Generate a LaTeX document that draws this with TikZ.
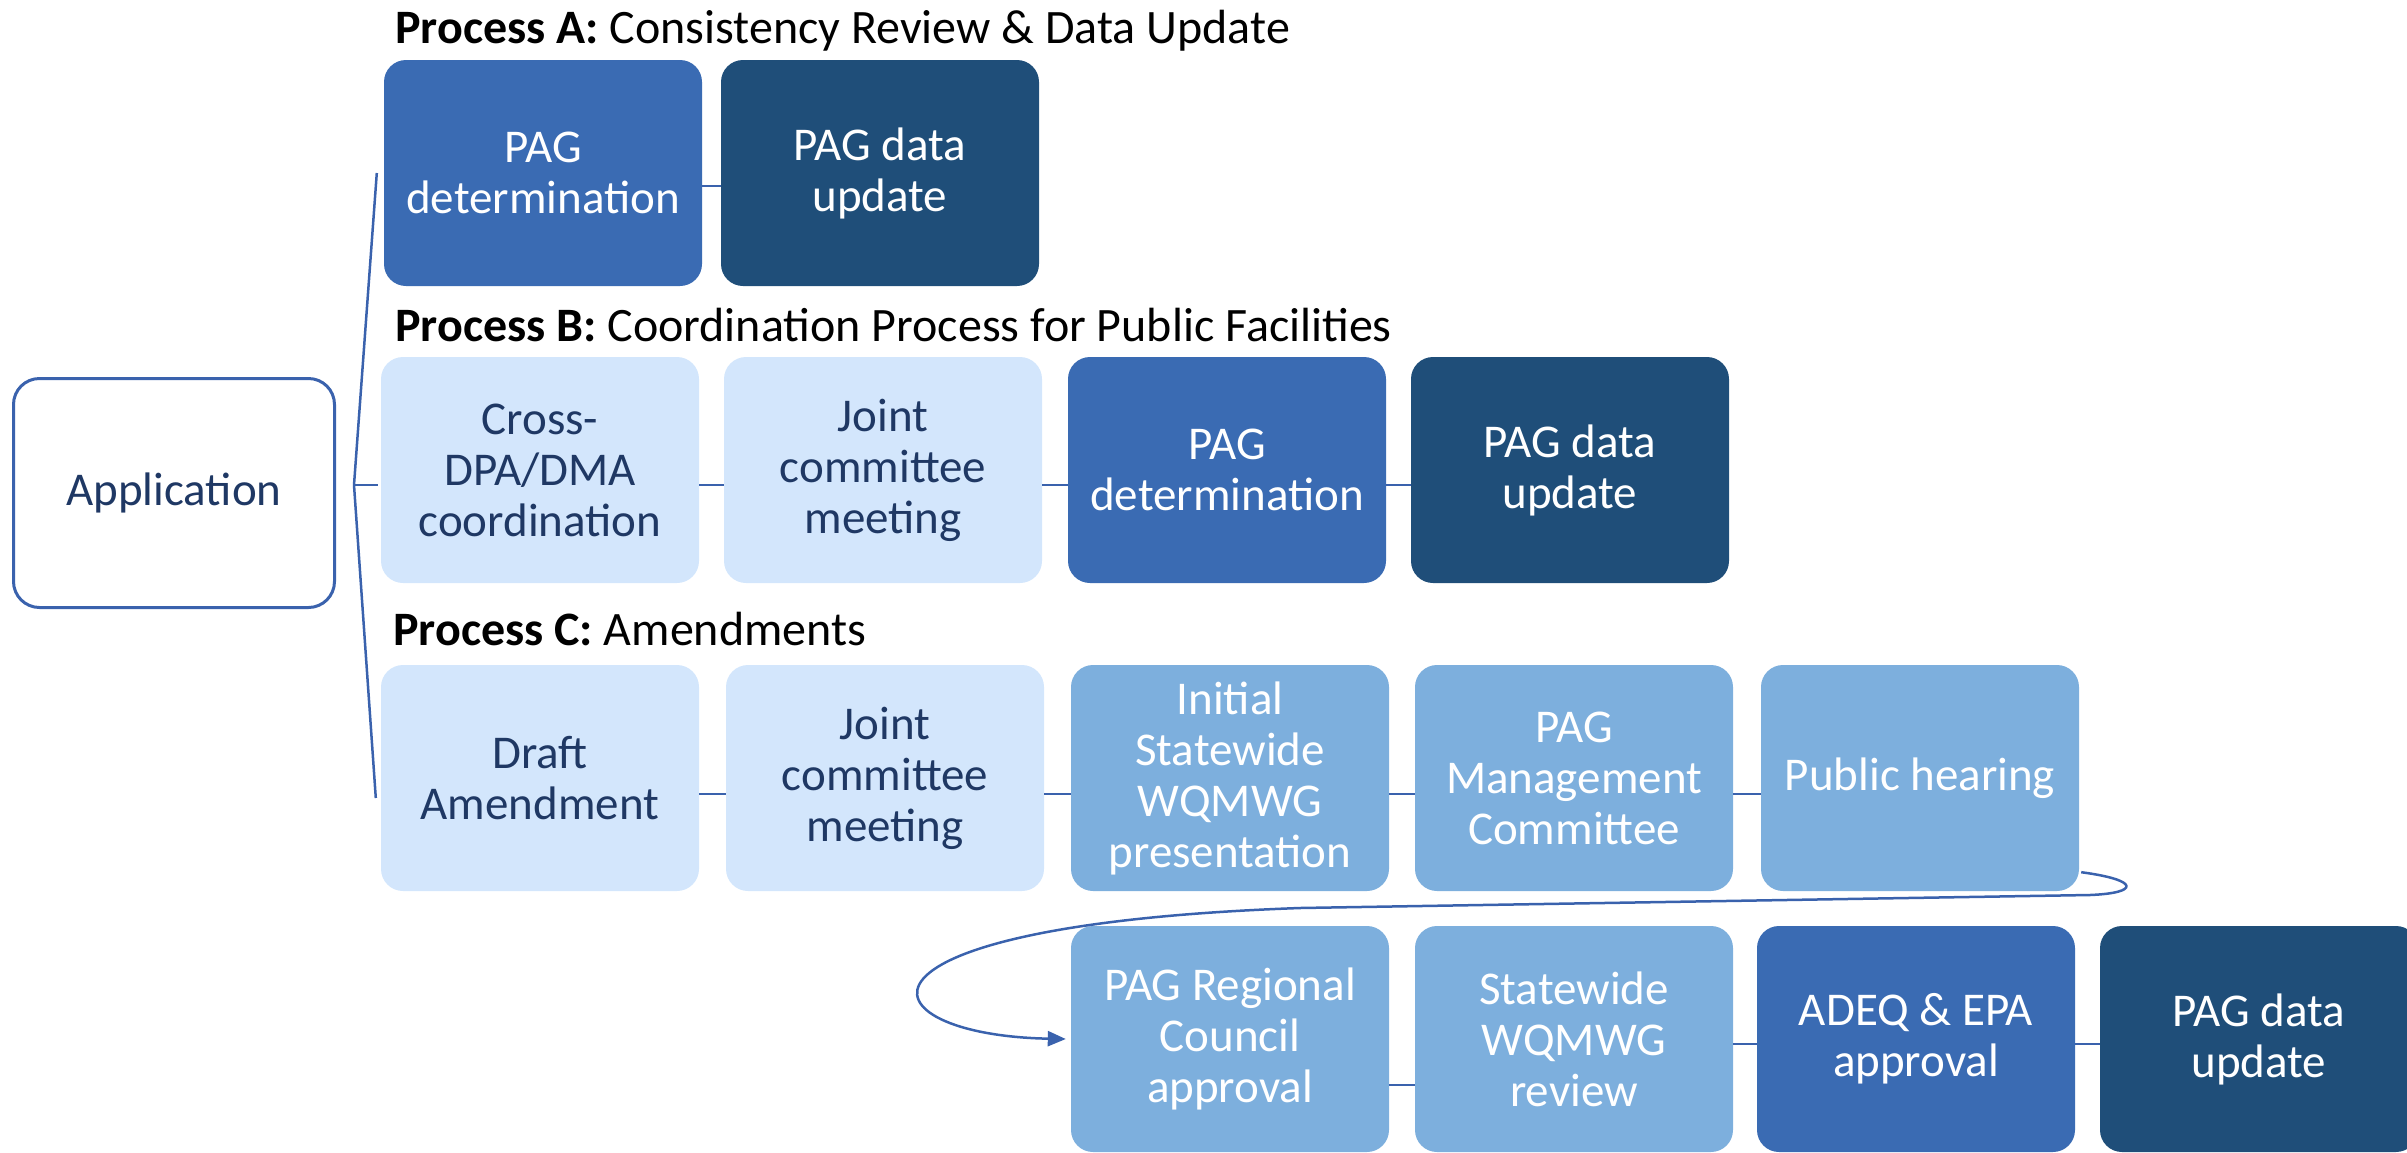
\documentclass[tikz,border=0pt]{standalone}
\usepackage{fontspec}
\setmainfont{Carlito}
\usetikzlibrary{arrows.meta}

\definecolor{paleblue}{HTML}{D3E6FC}
\definecolor{midblue}{HTML}{7DAFDD}
\definecolor{stepblue}{HTML}{3A6BB3}
\definecolor{navyblue}{HTML}{1F4E79}
\definecolor{inkblue}{HTML}{1F3864}
\definecolor{linkblue}{HTML}{3A62AD}

\tikzset{
    stepbox/.style={rounded corners=22pt, minimum width=318pt, minimum height=226pt,
        inner sep=0pt, align=center, font=\fontsize{47}{51}\selectfont},
    palebox/.style={stepbox, fill=paleblue, text=inkblue},
    midbox/.style={stepbox, fill=midblue, text=white},
    bluebox/.style={stepbox, fill=stepblue, text=white},
    navybox/.style={stepbox, fill=navyblue, text=white},
    title/.style={anchor=west, inner sep=0pt, font=\fontsize{48}{54}\selectfont},
    link/.style={draw=linkblue, line width=2.5pt}
}

\begin{document}
\begin{tikzpicture}[x=1pt, y=-1pt]
        \useasboundingbox (0, 0) rectangle (2407, 1152);

        % Draw the application box
        \node[draw=linkblue, line width=3pt, rounded corners=26pt, minimum width=321pt, minimum height=229pt,
            text=inkblue, font=\fontsize{47}{51}\selectfont] (app) at (174, 493) {Application};

        % Process A
        \node[title] (titleA) at (395, 31) {\textbf{Process A:} Consistency Review \& Data Update};
        \node[bluebox] (detA) at (543, 173) {PAG\\determination};
        \node[navybox] (dataA) at (880, 173) {PAG data\\update};

        % Process B
        \node[title] (titleB) at (395, 325) {\textbf{Process B:} Coordination Process for Public Facilities};
        \node[palebox] (cross) at (540, 470) {Cross-\\DPA/DMA\\coordination};
        \node[palebox] (jointB) at (883, 470) {Joint\\committee\\meeting};
        \node[bluebox] (detB) at (1227, 470) {PAG\\determination};
        \node[navybox] (dataB) at (1570, 470) {PAG data\\update};

        % Process C, first row
        \node[title] (titleC) at (393, 629) {\textbf{Process C:} Amendments};
        \node[palebox] (draft) at (540, 778) {Draft\\Amendment};
        \node[palebox] (jointC) at (885, 778) {Joint\\committee\\meeting};
        \node[midbox] (initial) at (1230, 778) {Initial\\Statewide\\WQMWG\\presentation};
        \node[midbox] (mgmt) at (1574, 778) {PAG\\Management\\Committee};
        \node[midbox] (hearing) at (1920, 778) {Public hearing};

        % Process C, second row
        \node[midbox] (council) at (1230, 1039) {PAG Regional\\Council\\approval};
        \node[midbox] (review) at (1574, 1039) {Statewide\\WQMWG\\review};
        \node[bluebox] (adeq) at (1916, 1039) {ADEQ \& EPA\\approval};
        \node[navybox] (dataC) at (2259, 1039) {PAG data\\update};

        % Draw the fork from the application to the three processes
        \coordinate (fork) at ([xshift=18pt, yshift=8pt]app.east);
        \draw[link] ([xshift=-7pt]detA.west) -- (fork) -- ([xshift=-5pt, yshift=-20pt]draft.west);
        \draw[link] (fork) -- ([xshift=-3pt, yshift=-15pt]cross.west);

        % Draw the short links between the steps
        \draw[link] ([yshift=-13pt]detA.east) -- ([yshift=-13pt]dataA.west);
        \foreach \a/\b in {cross/jointB, jointB/detB, detB/dataB} {
            \draw[link] ([yshift=-15pt]\a.east) -- ([yshift=-15pt]\b.west);
        }
        \foreach \a/\b in {draft/jointC, jointC/initial, initial/mgmt, mgmt/hearing} {
            \draw[link] ([yshift=-16pt]\a.east) -- ([yshift=-16pt]\b.west);
        }
        \draw[link] ([yshift=-46pt]council.east) -- ([yshift=-46pt]review.west);
        \draw[link] ([yshift=-5pt]review.east) -- ([yshift=-5pt]adeq.west);
        \draw[link] ([yshift=-5pt]adeq.east) -- ([yshift=-5pt]dataC.west);

        % Draw the curved arrow back to the second row
        \draw[draw=linkblue, line width=2.5pt, -{Triangle[length=18pt, width=15pt]}]
            ([xshift=2pt, yshift=19pt]hearing.south east)
            .. controls (2140, 880) and (2140, 893) .. (2090, 895)
            -- (1300, 908)
            .. controls (820, 925) and (860, 1035) .. ([xshift=-5pt]council.west);
    \end{tikzpicture}
\end{document}
